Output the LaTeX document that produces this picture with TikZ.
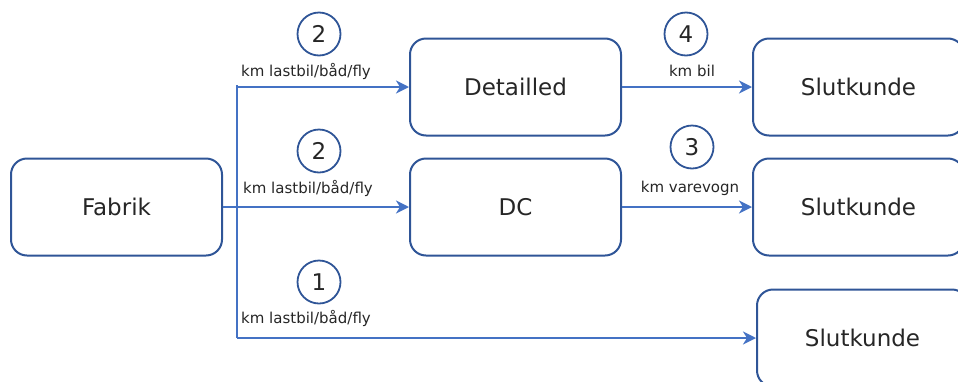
\documentclass[tikz,border=0pt]{standalone}
\usepackage{fontspec}
\setmainfont{DejaVu Sans}
\usepackage{tikz}
\usetikzlibrary{arrows.meta}
\usepackage{xcolor}
\definecolor{ColBox}{RGB}{47,85,151}
\definecolor{ColArr}{RGB}{68,114,196}
\definecolor{ColTxt}{RGB}{38,38,38}
\tikzstyle{BoxNode}=[rectangle,rounded corners=16pt,draw=ColBox,line width=2pt,
minimum width=211pt,minimum height=97pt,text=ColTxt,font=\fontsize{23}{27}\selectfont]
\tikzstyle{NumNode}=[circle,draw=ColBox,line width=1.8pt,minimum size=43pt,inner sep=0pt,
text=ColTxt,font=\fontsize{23}{27}\selectfont]
\tikzstyle{LabelNode}=[text=ColTxt,inner sep=0pt,font=\fontsize{15}{18}\selectfont]
\tikzstyle{EdgeLine}=[ColArr,line width=2.4pt]
\tikzstyle{EdgeArrow}=[EdgeLine,-{Stealth[length=13pt,width=13pt,inset=4pt]}]

\begin{document}
\begin{tikzpicture}[x=1pt,y=-1pt]
        \useasboundingbox(0,0)rectangle(958,381);
        \node[BoxNode](fab)at(116.5,207){Fabrik};
        \node[BoxNode](det)at(515.5,87){Detailled};
        \node[BoxNode](dc)at(515.5,207){DC};
        \node[BoxNode](sk1)at(858.5,87){Slutkunde};
        \node[BoxNode](sk2)at(858.5,207){Slutkunde};
        \node[BoxNode](sk3)at(862.5,338){Slutkunde};
        \coordinate(top)at(237,87);
        \coordinate(bot)at(237,338);
        \draw[EdgeLine]([yshift=2pt]top)--(bot);
        \draw[EdgeArrow](top)--(top-|det.west);
        \draw[EdgeArrow](fab)--(dc);
        \draw[EdgeArrow](bot)--(bot-|sk3.west);
        \draw[EdgeArrow](det)--(sk1);
        \draw[EdgeArrow](dc)--(sk2);
        \node[NumNode](n2a)at(319,34){2};
        \node[NumNode](n2b)at(319,151){2};
        \node[NumNode](n1)at(319,282){1};
        \node[NumNode](n4)at(686,34){4};
        \node[NumNode](n3)at(692,147){3};
        \node[LabelNode](la)at(306,71){km lastbil/båd/fly};
        \node[LabelNode](lb)at(308,188){km lastbil/båd/fly};
        \node[LabelNode](lc)at(306,318){km lastbil/båd/fly};
        \node[LabelNode](ld)at(692,71){km bil};
        \node[LabelNode](le)at(690,188){km varevogn};
    \end{tikzpicture}
\end{document}
